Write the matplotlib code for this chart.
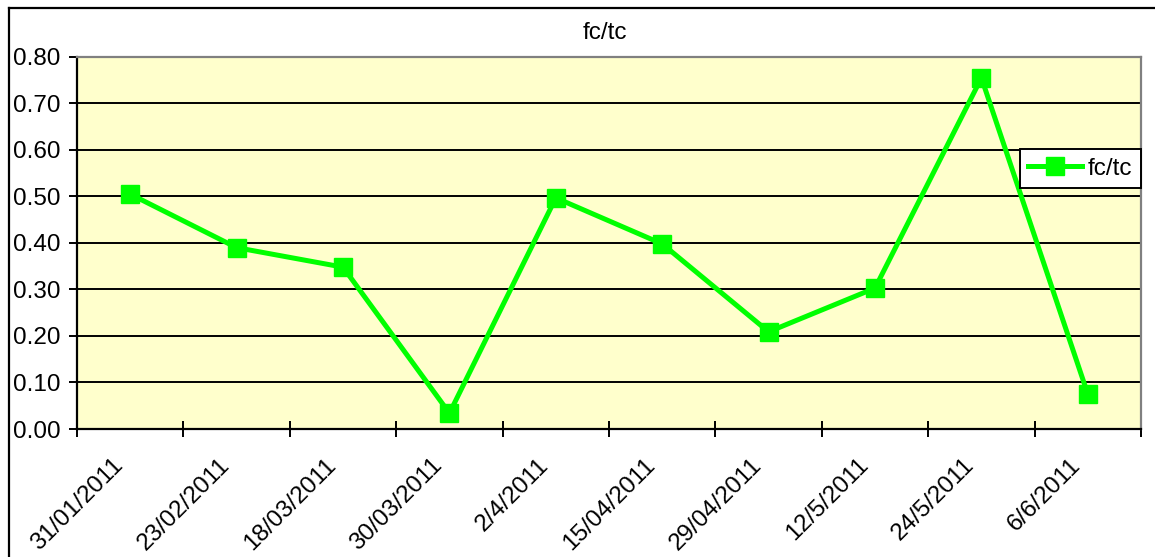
"""
fc/tc ratio per sampling date, Excel style line chart
"""
import matplotlib
matplotlib.use("Agg")
import matplotlib.pyplot as plt
from matplotlib.lines import Line2D
from matplotlib.transforms import ScaledTranslation, blended_transform_factory

# Data
dates = ["31/01/2011", "23/02/2011", "18/03/2011", "30/03/2011", "2/4/2011",
         "15/04/2011", "29/04/2011", "12/5/2011", "24/5/2011", "6/6/2011"]
fc_tc = [0.505, 0.390, 0.348, 0.034, 0.497, 0.398, 0.209, 0.303, 0.755, 0.075]
y_ticks = [0.0, 0.1, 0.2, 0.3, 0.4, 0.5, 0.6, 0.7, 0.8]


def main():
    plt.rcParams["font.family"] = ["Liberation Sans", "DejaVu Sans"]
    fs = 17.5
    plt.rcParams["font.size"] = fs

    fig = plt.figure(figsize=(11.55, 5.57), dpi=100)
    ax = fig.add_axes([0.0667, 0.2298, 0.9212, 0.6679])
    ax.set_facecolor("#FFFFCC")

    n = len(dates)
    x = list(range(n))
    ax.plot(x, fc_tc, color="#00FF00", lw=3.6, marker="s", ms=12.5,
            mec="#00FF00", mfc="#00FF00", label="fc/tc", zorder=3)

    ax.set_xlim(-0.5, n - 0.5)
    ax.set_ylim(0, 0.8)

    # y axis
    ax.set_yticks(y_ticks)
    ax.set_yticklabels([f"{v:.2f}" for v in y_ticks])
    ax.yaxis.grid(True, color="black", lw=1.4)
    ax.set_axisbelow(True)
    ax.tick_params(axis="y", direction="out", length=6, width=1.4, pad=6)

    # x axis: ticks between categories, labels at centres
    ax.set_xticks([i - 0.5 for i in range(n + 1)])
    ax.set_xticklabels([])
    ax.tick_params(axis="x", which="major", direction="inout", length=12, width=1.4)
    trans = blended_transform_factory(ax.transData, ax.transAxes)
    shift = ScaledTranslation(-18 / 100, -25 / 100, fig.dpi_scale_trans)
    for xi, lab in zip(x, dates):
        ax.text(xi, 0, lab, transform=trans + shift, rotation=45,
                ha="right", va="top", rotation_mode="anchor", fontsize=fs)

    for side in ["left", "bottom"]:
        ax.spines[side].set_color("black")
        ax.spines[side].set_linewidth(1.6)
    for side in ["top", "right"]:
        ax.spines[side].set_color("#808080")
        ax.spines[side].set_linewidth(1.6)

    leg = ax.legend(loc="center right", bbox_to_anchor=(1.0, 0.70),
                    frameon=True, fancybox=False, framealpha=1,
                    edgecolor="black", handlelength=2.2, borderpad=0.35,
                    handletextpad=0.25, borderaxespad=0)
    leg.get_frame().set_linewidth(1.4)

    fig.text(0.524, 0.941, "fc/tc", ha="center", va="center", fontsize=fs)

    # chart area border (only top and left visible)
    fig.add_artist(Line2D([0.0078, 0.0078], [0.0, 0.9856], color="black", lw=1.6))
    fig.add_artist(Line2D([0.0078, 1.0], [0.9856, 0.9856], color="black", lw=1.6))

    fig.savefig("out.png", dpi=100)
    plt.close(fig)


if __name__ == "__main__":
    main()
